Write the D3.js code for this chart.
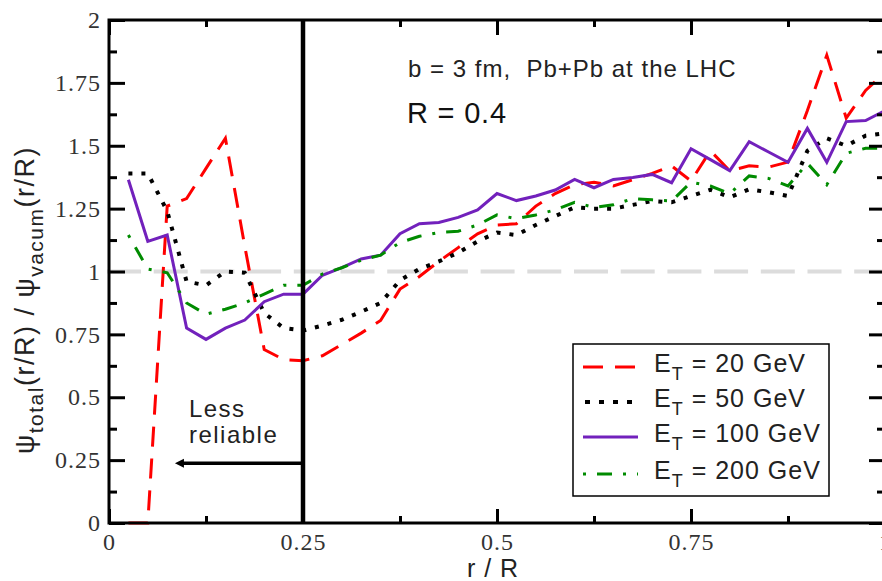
<!DOCTYPE html>
<html>
<head>
<meta charset="utf-8">
<script src="https://cdn.jsdelivr.net/npm/d3@7"></script>
<style>
  body { margin: 0; background: #fff; }
  svg { display: block; }
  .sans { font-family: "Liberation Sans", Arial, Helvetica, sans-serif; }
  .serif { font-family: "Liberation Serif", "Times New Roman", "DejaVu Serif", serif; }
</style>
</head>
<body>
<svg id="chart" width="882" height="581"></svg>
<script>
// Radial bins r/R
const rOverR = [0.025, 0.05, 0.075, 0.1, 0.125, 0.15, 0.175, 0.2, 0.225, 0.25,
                0.275, 0.3, 0.325, 0.35, 0.375, 0.4, 0.425, 0.45, 0.475, 0.5,
                0.525, 0.55, 0.575, 0.6, 0.625, 0.65, 0.675, 0.7, 0.725, 0.75,
                0.775, 0.8, 0.825, 0.85, 0.875, 0.9, 0.925, 0.95, 0.975, 1.0];

// psi_total / psi_vacuum ratio for each jet E_T
const ratioEt20 = [0, 0, 1.26, 1.29, 1.41, 1.53, 1.10, 0.69, 0.65, 0.645,
                   0.665, 0.71, 0.755, 0.805, 0.93, 0.98, 1.04, 1.095, 1.15, 1.185,
                   1.19, 1.26, 1.31, 1.345, 1.355, 1.34, 1.365, 1.39, 1.42, 1.36,
                   1.48, 1.40, 1.42, 1.415, 1.435, 1.64, 1.86, 1.61, 1.72, 1.79];
const ratioEt50 = [1.39, 1.39, 1.24, 0.96, 0.945, 1.0, 0.995, 0.835, 0.775, 0.765,
                   0.785, 0.808, 0.84, 0.875, 0.965, 1.01, 1.04, 1.075, 1.12, 1.155,
                   1.145, 1.185, 1.22, 1.255, 1.25, 1.25, 1.265, 1.28, 1.275, 1.30,
                   1.325, 1.295, 1.327, 1.315, 1.30, 1.48, 1.53, 1.50, 1.54, 1.55];
const ratioEt100 = [1.365, 1.12, 1.145, 0.775, 0.73, 0.775, 0.807, 0.88, 0.91, 0.91,
                    0.985, 1.015, 1.05, 1.065, 1.15, 1.19, 1.195, 1.215, 1.245, 1.31,
                    1.282, 1.30, 1.324, 1.366, 1.333, 1.366, 1.374, 1.386, 1.353, 1.488,
                    1.445, 1.401, 1.516, 1.475, 1.434, 1.569, 1.434, 1.596, 1.60, 1.64];
const ratioEt200 = [1.145, 1.01, 0.995, 0.875, 0.83, 0.85, 0.875, 0.91, 0.945, 0.945,
                    0.99, 1.015, 1.045, 1.065, 1.115, 1.14, 1.155, 1.16, 1.185, 1.225,
                    1.21, 1.225, 1.245, 1.275, 1.255, 1.265, 1.29, 1.285, 1.28, 1.355,
                    1.34, 1.31, 1.38, 1.37, 1.34, 1.43, 1.345, 1.47, 1.49, 1.49];

const seriesEt = ["20", "50", "100", "200"];

const xMajor = [0, 0.25, 0.5, 0.75, 1];
const xMajorLabels = ["0", "0.25", "0.5", "0.75", "1"];
const xMinor = [0.125, 0.375, 0.625, 0.875];
const yMajor = [0, 0.25, 0.5, 0.75, 1, 1.25, 1.5, 1.75, 2];
const yMajorLabels = ["0", "0.25", "0.5", "0.75", "1", "1.25", "1.5", "1.75", "2"];
const yMinor = [0.125, 0.375, 0.625, 0.875, 1.125, 1.375, 1.625, 1.875];

// reference level and reliability cut
const unityLevel = 1;
const reliableCut = 0.25;

const svg = d3.select("#chart");
const x = d3.scaleLinear().domain([0, 1]).range([109, 885]);
const y = d3.scaleLinear().domain([0, 2]).range([523, 20]);

const styles = [
  { color: "#ff0000", width: 3,   dash: "20,12" },
  { color: "#000000", width: 4,   dash: "4,9" },
  { color: "#7221bc", width: 3,   dash: null },
  { color: "#008b00", width: 3,   dash: "3,11,15,11" }
];
const seriesValues = [ratioEt20, ratioEt50, ratioEt100, ratioEt200];

svg.append("rect").attr("width", 882).attr("height", 581).attr("fill", "#fff");

// dashed unity line
svg.append("line")
  .attr("x1", x(0) - 2).attr("x2", x(1))
  .attr("y1", y(unityLevel)).attr("y2", y(unityLevel))
  .attr("stroke", "#dcdcdc").attr("stroke-width", 4)
  .attr("stroke-dasharray", "34,12.7");

// curves
const line = d3.line()
  .x((d, i) => x(rOverR[i]))
  .y(d => y(d));

seriesValues.forEach((vals, k) => {
  const st = styles[k];
  svg.append("path")
    .datum(vals)
    .attr("d", line)
    .attr("fill", "none")
    .attr("stroke", st.color)
    .attr("stroke-width", st.width)
    .attr("stroke-linejoin", "miter")
    .attr("stroke-dasharray", st.dash);
});

// reliability boundary
svg.append("line")
  .attr("x1", x(reliableCut)).attr("x2", x(reliableCut))
  .attr("y1", y(0)).attr("y2", y(2))
  .attr("stroke", "#000").attr("stroke-width", 4.5);

// arrow pointing to the less reliable region
const arrowY = y(0.238);
const arrowTip = x(0.085);
svg.append("line")
  .attr("x1", x(reliableCut)).attr("x2", arrowTip + 6)
  .attr("y1", arrowY).attr("y2", arrowY)
  .attr("stroke", "#000").attr("stroke-width", 3.5);
svg.append("path")
  .attr("d", `M${arrowTip},${arrowY} L${arrowTip + 9},${arrowY - 4.5} L${arrowTip + 9},${arrowY + 4.5} Z`)
  .attr("fill", "#000");

svg.append("text").attr("class", "sans").attr("x", x(0.103)).attr("y", y(0.42))
  .attr("font-size", 24).attr("letter-spacing", "1.5px").attr("fill", "#222")
  .text("Less");
svg.append("text").attr("class", "sans").attr("x", x(0.103)).attr("y", y(0.317))
  .attr("font-size", 24).attr("letter-spacing", "1.5px").attr("fill", "#222")
  .text("reliable");

// axes
function styleAxis(g, withLabels) {
  g.attr("font-family", null).attr("font-size", null);
  g.select(".domain").remove();
  g.selectAll(".tick line").attr("stroke", "#000").attr("stroke-width", 3);
  g.selectAll(".tick text")
    .attr("class", "serif")
    .attr("font-size", 24)
    .attr("fill", "#333")
    .attr("letter-spacing", "1px")
    .style("display", withLabels ? null : "none");
}

svg.append("g").attr("transform", `translate(0,${y(0)})`)
  .call(d3.axisBottom(x).tickValues(xMajor).tickSize(-14).tickPadding(10)
    .tickFormat((d, i) => xMajorLabels[i]))
  .call(g => styleAxis(g, true));
svg.append("g").attr("transform", `translate(0,${y(0)})`)
  .call(d3.axisBottom(x).tickValues(xMinor).tickSize(-7).tickFormat(""))
  .call(g => styleAxis(g, false));
svg.append("g").attr("transform", `translate(0,${y(2)})`)
  .call(d3.axisTop(x).tickValues(xMajor).tickSize(-15).tickFormat(""))
  .call(g => styleAxis(g, false));
svg.append("g").attr("transform", `translate(0,${y(2)})`)
  .call(d3.axisTop(x).tickValues(xMinor).tickSize(-7).tickFormat(""))
  .call(g => styleAxis(g, false));

svg.append("g").attr("transform", `translate(${x(0)},0)`)
  .call(d3.axisLeft(y).tickValues(yMajor).tickSize(-16).tickPadding(8)
    .tickFormat((d, i) => yMajorLabels[i]))
  .call(g => styleAxis(g, true));
svg.append("g").attr("transform", `translate(${x(0)},0)`)
  .call(d3.axisLeft(y).tickValues(yMinor).tickSize(-8).tickFormat(""))
  .call(g => styleAxis(g, false));
svg.append("g").attr("transform", `translate(${x(1)},0)`)
  .call(d3.axisRight(y).tickValues(yMajor).tickSize(-16).tickFormat(""))
  .call(g => styleAxis(g, false));
svg.append("g").attr("transform", `translate(${x(1)},0)`)
  .call(d3.axisRight(y).tickValues(yMinor).tickSize(-8).tickFormat(""))
  .call(g => styleAxis(g, false));

// frame
svg.append("rect")
  .attr("x", x(0)).attr("y", y(2))
  .attr("width", x(1) - x(0)).attr("height", y(0) - y(2))
  .attr("fill", "none").attr("stroke", "#000").attr("stroke-width", 3);

// axis titles
svg.append("text").attr("class", "sans").attr("x", (x(0) + x(1)) / 2 - 4).attr("y", 577)
  .attr("text-anchor", "middle").attr("font-size", 25).attr("letter-spacing", "1px")
  .attr("fill", "#222").text("r / R");

const yl = svg.append("text").attr("class", "sans")
  .attr("transform", "translate(34,300) rotate(-90)")
  .attr("text-anchor", "middle").attr("font-size", 27)
  .attr("letter-spacing", "1.5px").attr("fill", "#222");
yl.append("tspan").text("ψ");
yl.append("tspan").attr("font-size", 21).attr("dy", 9).text("total");
yl.append("tspan").attr("dy", -9).text("(r/R) / ψ");
yl.append("tspan").attr("font-size", 21).attr("dy", 9).text("vacum");
yl.append("tspan").attr("dy", -9).text("(r/R)");

// annotations
svg.append("text").attr("class", "sans").attr("x", 408).attr("y", 77)
  .attr("font-size", 24).attr("letter-spacing", "1px").attr("fill", "#222")
  .style("white-space", "pre")
  .text("b = 3 fm,  Pb+Pb at the LHC");
svg.append("text").attr("class", "sans").attr("x", 407).attr("y", 123)
  .attr("font-size", 29).attr("letter-spacing", "0.8px").attr("fill", "#111")
  .text("R = 0.4");

// legend
const lg = svg.append("g");
lg.append("rect").attr("x", 573).attr("y", 344).attr("width", 256).attr("height", 152)
  .attr("fill", "#fff").attr("stroke", "#000").attr("stroke-width", 1.5);
const rowY = [367, 402, 437, 474];
seriesEt.forEach((et, k) => {
  const st = styles[k];
  const x1 = k === 1 ? 585 : 583;
  const x2 = k === 1 ? 632 : 638;
  lg.append("line")
    .attr("x1", x1).attr("x2", x2).attr("y1", rowY[k]).attr("y2", rowY[k])
    .attr("stroke", st.color).attr("stroke-width", st.width)
    .attr("stroke-dasharray", k === 1 ? "5,9" : st.dash);
  const t = lg.append("text").attr("class", "sans").attr("x", 654).attr("y", rowY[k] + 5)
    .attr("font-size", 25).attr("letter-spacing", "1px").attr("fill", "#222")
    .style("white-space", "pre");
  t.append("tspan").text("E");
  t.append("tspan").attr("font-size", 18).attr("dy", 8).text("T");
  t.append("tspan").attr("dy", -8).text(" = " + et + " GeV");
});
</script>
</body>
</html>
